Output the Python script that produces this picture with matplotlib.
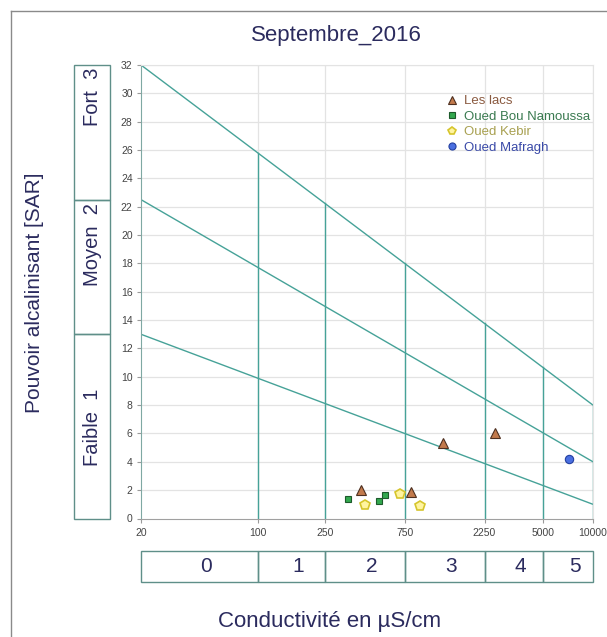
import matplotlib
matplotlib.use("Agg")
import matplotlib.pyplot as plt
import numpy as np
from matplotlib.patches import Rectangle
from matplotlib.lines import Line2D

plt.rcParams["font.family"] = ["Liberation Sans", "DejaVu Sans"]

# ---- data -------------------------------------------------------------
# salinity classes (conductivity, µS/cm)
ec_edges = [20, 100, 250, 750, 2250, 5000, 10000]
ec_classes = ["0", "1", "2", "3", "4", "5"]
ec_ticks = [20, 100, 250, 750, 2250, 5000, 10000]

# alkalinity classes (SAR)
sar_edges = [0, 13, 22.5, 32]
sar_classes = ["Faible  1", "Moyen  2", "Fort  3"]
sar_label_pos = [6.4, 19.3, 29.75]
sar_ticks = list(range(0, 33, 2))

# class boundary lines: SAR at 20 and at 10000 µS/cm
bound_ec = [20, 10000]
bound_low = [13, 1]
bound_mid = [22.5, 4]
bound_high = [32, 8]

# samples
lacs_ec = [1280, 2600, 410, 820]
lacs_sar = [5.3, 6.0, 2.0, 1.85]
bou_ec = [345, 530, 575]
bou_sar = [1.4, 1.25, 1.65]
kebir_ec = [435, 705, 930]
kebir_sar = [0.95, 1.75, 0.9]
mafragh_ec = [7200]
mafragh_sar = [4.2]

# ---- figure -----------------------------------------------------------
W, H = 607, 637
fig = plt.figure(figsize=(W / 100, H / 100), dpi=100)

def frac(x0, y0, x1, y1):
    """pixel box (top-left origin) -> figure fraction rect"""
    return [x0 / W, 1 - y1 / H, (x1 - x0) / W, (y1 - y0) / H]

TEAL = "#46a298"
BOX = "#5f8f89"
INK = "#2b2b5e"
GRID = "#e3e3e3"

# outer frame
fig.add_artist(Line2D([11 / W, 11 / W], [0, 1 - 11 / H], color="#8a8a8a", lw=1.0,
                      transform=fig.transFigure))
fig.add_artist(Line2D([11 / W, 1], [1 - 11 / H, 1 - 11 / H], color="#8a8a8a", lw=1.0,
                      transform=fig.transFigure))

PX0, PX1, PY_TOP, PY_BOT = 141, 593, 65, 518.5
ax = fig.add_axes(frac(PX0, PY_TOP, PX1, PY_BOT))
ax.set_xscale("log")
ax.set_xlim(20, 10000)
ax.set_ylim(0, 32)

# light grid
for y in sar_ticks[1:]:
    ax.axhline(y, color=GRID, lw=0.9, zorder=0)
for x in ec_edges[1:]:
    ax.axvline(x, color=GRID, lw=0.9, zorder=0)

# boundary lines (straight in log-conductivity)
for ys in (bound_low, bound_mid, bound_high):
    ax.plot(bound_ec, ys, color=TEAL, lw=1.0, zorder=2, solid_capstyle="butt")

# class separators rising to the top boundary
log_b = np.log10(bound_ec)
for x in ec_edges[1:]:
    ytop = np.interp(np.log10(x), log_b, bound_high)
    ax.plot([x, x], [0, ytop], color=TEAL, lw=1.0, zorder=2)

for s in ("top", "right"):
    ax.spines[s].set_color(GRID)
ax.spines["left"].set_color("#7fa8a3")
ax.spines["bottom"].set_color("#a0a0a0")

ax.set_yticks(sar_ticks)
ax.set_xticks(ec_ticks)
ax.set_xticklabels([str(v) for v in ec_ticks])
ax.xaxis.set_minor_locator(matplotlib.ticker.NullLocator())
ax.tick_params(axis="both", labelsize=7.5, colors="#9a9a9a", labelcolor="#444444",
               length=3, width=0.8)
ax.tick_params(axis="x", pad=4)
ax.tick_params(axis="y", pad=3)

# samples
ax.plot(lacs_ec, lacs_sar, ls="none", marker="^", ms=6.5, mfc="#c27a4c",
        mec="#4e3020", mew=0.8, zorder=5, label="Les lacs")
ax.plot(bou_ec, bou_sar, ls="none", marker="s", ms=4.6, mfc="#33a84e",
        mec="#1d5a2b", mew=0.8, zorder=5, label="Oued Bou Namoussa")
ax.plot(kebir_ec, kebir_sar, ls="none", marker="p", ms=7, mfc="#fff4a0",
        mec="#d6c52c", mew=1.2, zorder=5, label="Oued Kebir")
ax.plot(mafragh_ec, mafragh_sar, ls="none", marker="o", ms=6, mfc="#4a6fe0",
        mec="#2440a0", mew=0.8, zorder=5, label="Oued Mafragh")

leg = ax.legend(loc="upper left", bbox_to_anchor=(447 / W, 1 - 95 / H),
                bbox_transform=fig.transFigure, frameon=False, fontsize=9.5,
                handlelength=0.8, handletextpad=0.5, labelspacing=0.25,
                borderpad=0, borderaxespad=0, markerscale=0.85)
for t, c in zip(leg.get_texts(), ["#8a5a40", "#3a7a50", "#a8a050", "#3a4aa8"]):
    t.set_color(c)

# SAR class boxes
axl = fig.add_axes(frac(74, PY_TOP, 110, PY_BOT))
axl.set_xlim(0, 1)
axl.set_ylim(0, 32)
axl.axis("off")
for lo, hi, name, yp in zip(sar_edges[:-1], sar_edges[1:], sar_classes, sar_label_pos):
    axl.add_patch(Rectangle((0, lo), 1, hi - lo, fill=False, ec=BOX, lw=1.0,
                            clip_on=False))
    axl.text(0.5, yp, name, rotation=90, ha="center", va="center",
             fontsize=14.5, color=INK)

# conductivity class boxes
axb = fig.add_axes(frac(PX0, 551, PX1, 582))
axb.set_xscale("log")
axb.set_xlim(20, 10000)
axb.set_ylim(0, 1)
axb.axis("off")
for lo, hi, name in zip(ec_edges[:-1], ec_edges[1:], ec_classes):
    axb.add_patch(Rectangle((lo, 0), hi - lo, 1, fill=False, ec=BOX, lw=1.0,
                            clip_on=False))
    axb.annotate(name, (np.sqrt(lo * hi), 0.5), xytext=(5, 0),
                 textcoords="offset points", ha="center", va="center",
                 fontsize=15, color=INK)

# titles
fig.text(336 / W, 1 - 35 / H, "Septembre_2016", ha="center", va="center",
         fontsize=16, color=INK)
fig.text(218 / W, 1 - 622 / H, "Conductivité en µS/cm", ha="left", va="center",
         fontsize=16, color=INK)
fig.text(35 / W, 1 - 413 / H, "Pouvoir alcalinisant [SAR]", rotation=90,
         ha="center", va="bottom", fontsize=15, color=INK)

fig.savefig("out.png", dpi=100)
